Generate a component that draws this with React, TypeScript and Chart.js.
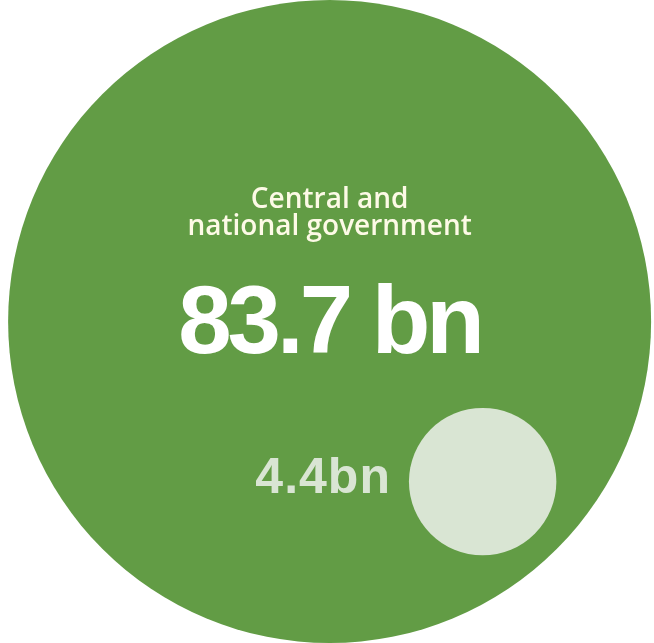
import React, { useEffect, useRef } from "react";
import { Chart, registerables } from "chart.js";

Chart.register(...registerables);

const categories: string[][] = [["Central and", "national government"], []];
const values: number[] = [83.7, 4.4];
const valueLabels: string[] = ["83.7 bn", "4.4bn"];
const xPos: number[] = [0.008, 0.476];
const yPos: number[] = [0, -0.498];
const colors: string[] = ["#629c45", "#d9e5d3"];

const labelPlugin = {
  id: "bubbleLabels",
  afterDatasetsDraw(chart: any) {
    const ctx = chart.ctx;
    const meta = chart.getDatasetMeta(0);
    const big = meta.data[0];
    const small = meta.data[1];
    if (!big || !small) return;
    ctx.save();
    ctx.textBaseline = "alphabetic";
    ctx.textAlign = "center";
    ctx.fillStyle = "#fdfae6";
    ctx.font = "600 28px 'Open Sans'";
    (ctx as any).letterSpacing = "0px";
    const lines = categories[0];
    lines.forEach((l, i) => {
      ctx.fillText(l, big.x, big.y - 114 + i * 27);
    });
    ctx.fillStyle = "#ffffff";
    ctx.font = "bold 96px 'Liberation Sans'";
    (ctx as any).letterSpacing = "-4px";
    ctx.fillText(valueLabels[0], big.x, big.y + 31);
    const r = small.options.radius;
    ctx.textAlign = "right";
    ctx.fillStyle = "#d9e5d3";
    ctx.font = "bold 50px 'Liberation Sans'";
    (ctx as any).letterSpacing = "1px";
    ctx.fillText(valueLabels[1], small.x - r - 18, small.y + 11);
    ctx.restore();
  },
};

export default function App() {
  const ref = useRef<HTMLCanvasElement | null>(null);
  useEffect(() => {
    if (!ref.current) return;
    const maxV = Math.max(...values);
    const chart = new Chart(ref.current, {
      type: "bubble",
      data: {
        datasets: [
          {
            data: values.map((v, i) => ({ x: xPos[i], y: yPos[i] })),
            backgroundColor: colors,
            borderWidth: 0,
            clip: false,
            radius: (c: any) => {
              const h = c.chart.height || 643;
              const v = values[c.dataIndex];
              return (h / 2) * Math.sqrt(v / maxV);
            },
          } as any,
        ],
      },
      options: {
        animation: false,
        responsive: true,
        maintainAspectRatio: false,
        layout: { padding: 0, autoPadding: false },
        plugins: { legend: { display: false }, tooltip: { enabled: false } },
        scales: {
          x: { type: "linear", min: -1, max: 1, display: false },
          y: { type: "linear", min: -1, max: 1, display: false },
        },
      },
      plugins: [labelPlugin],
    });
    return () => chart.destroy();
  }, []);
  return (
    <div style={{ position: "fixed", left: 0, top: 0, width: 654, height: 643, background: "#ffffff" }}>
      <canvas ref={ref} />
    </div>
  );
}
